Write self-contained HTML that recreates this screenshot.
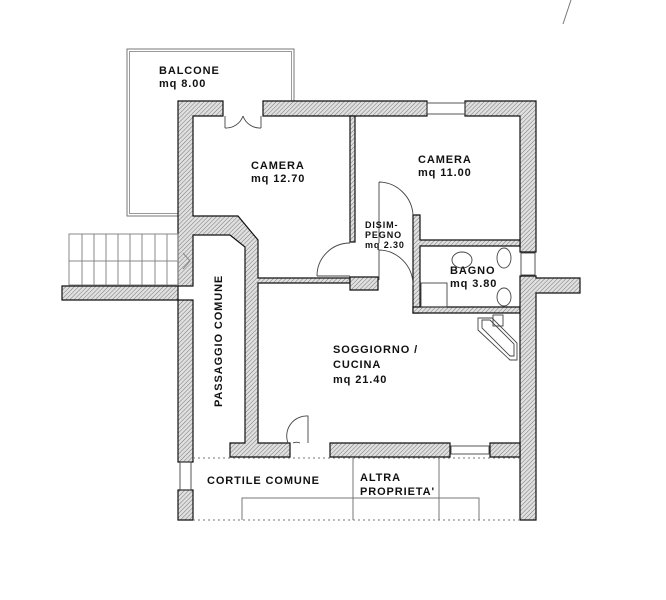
<!DOCTYPE html>
<html><head><meta charset="utf-8"><style>
html,body{margin:0;padding:0;background:#fff}
svg{display:block}
text{font-family:"Liberation Sans",sans-serif;font-weight:bold;font-size:11px;fill:#111;letter-spacing:0.9px}
</style></head><body>
<svg width="666" height="600" viewBox="0 0 666 600" xmlns="http://www.w3.org/2000/svg">
<defs>
<pattern id="h" width="3" height="3" patternUnits="userSpaceOnUse" patternTransform="rotate(45)">
<rect width="3" height="3" fill="#e0e0e0"/><line x1="0" y1="0" x2="0" y2="3" stroke="#777" stroke-width="1"/>
</pattern>
</defs>
<rect x="127" y="49" width="167" height="167" fill="none" stroke="#777" stroke-width="1"/>
<rect x="129.5" y="51.5" width="162" height="162" fill="none" stroke="#999" stroke-width="1"/>
<rect x="179" y="102" width="118" height="120" fill="#fff"/>
<g stroke="#111" stroke-width="1.2" fill="url(#h)">
<polygon points="178,101 223,101 223,116 193,116 193,216 238,216 258,240 258,278 350,278 350,283 258,283 258,443 290,443 290,457 230,457 230,443 245,443 245,247 230,235 193,235 193,286 62,286 62,300 178,300 178,235"/>
<polygon points="263,101 427,101 427,116 263,116"/>
<polygon points="465,101 536,101 536,252 520,252 520,116 465,116"/>
<polygon points="350,116 355,116 355,242 350,242"/>
<polygon points="350,277 378,277 378,290 350,290"/>
<polygon points="413,215 420,215 420,240 520,240 520,246 420,246 420,313 413,313 413,290 413,246"/>
<polygon points="413,307 520,307 520,313 413,313"/>
<polygon points="520,276 536,276 536,278 580,278 580,293 536,293 536,520 520,520"/>
<polygon points="330,443 450,443 450,457 330,457"/>
<polygon points="490,443 520,443 520,457 490,457"/>
<polygon points="178,300 193,300 193,462 178,462"/>
<polygon points="178,490 193,490 193,520 178,520"/>
</g>
<g stroke="#888" stroke-width="1" fill="none">
<rect x="69" y="234" width="109" height="51"/>
<line x1="69" y1="261" x2="178" y2="261"/>
<line x1="82" y1="234" x2="82" y2="285"/><line x1="94" y1="234" x2="94" y2="285"/><line x1="106" y1="234" x2="106" y2="285"/><line x1="118" y1="234" x2="118" y2="285"/><line x1="130" y1="234" x2="130" y2="285"/><line x1="142" y1="234" x2="142" y2="285"/><line x1="155" y1="234" x2="155" y2="285"/><line x1="167" y1="234" x2="167" y2="285"/>
<polyline points="183,253 190,261 183,269"/>
</g>
<g stroke="#444" stroke-width="0.9" fill="none">
<path d="M225,128 A18,18 0 0 0 243,116 M261,128 A18,18 0 0 1 243,116"/>
<line x1="225" y1="116" x2="225" y2="128"/><line x1="261" y1="116" x2="261" y2="128"/>
<rect x="427" y="103" width="38" height="11"/>
<path d="M379,182 A35,35 0 0 1 413,215 M379,182 L379,243"/>
<path d="M317,276 A33,33 0 0 1 350,243 M317,276 L350,276"/>
<path d="M379,250 A35,35 0 0 1 413,285 M379,250 L379,280"/>
<rect x="521" y="253" width="14" height="22"/>
<path d="M308,443 L308,416 A20,20 0 0 0 288,443 M293,443 A8,8 0 0 1 300,443"/>
<rect x="451" y="446" width="38" height="8"/>
<rect x="180" y="462" width="11" height="28"/>
<ellipse cx="462" cy="260" rx="10" ry="8"/>
<ellipse cx="504" cy="258" rx="7" ry="10"/>
<ellipse cx="504" cy="297" rx="7" ry="9"/>
<rect x="421" y="283" width="26" height="24"/>
<rect x="493" y="315" width="10" height="11"/>
<polygon points="478,318 492,318 517,343 517,360 510,360 478,330"/>
<polygon points="482,320 490,320 514,344 514,356 510,356 482,328"/>
</g>
<g stroke="#777" stroke-width="1" fill="none">
<line x1="193" y1="458" x2="520" y2="458" stroke-dasharray="2,3"/>
<line x1="193" y1="520" x2="520" y2="520" stroke-dasharray="2,3"/>
<line x1="353" y1="457" x2="353" y2="520"/>
<line x1="439" y1="457" x2="439" y2="520"/>
<polyline points="242,520 242,498 479,498 479,520"/>
<line x1="571" y1="0" x2="563" y2="24"/>
</g>
<text x="159" y="74">BALCONE</text>
<text x="159" y="87">mq 8.00</text>
<text x="251" y="169">CAMERA</text>
<text x="251" y="182">mq 12.70</text>
<text x="418" y="163">CAMERA</text>
<text x="418" y="176">mq 11.00</text>
<text x="365" y="228" style="font-size:9px">DISIM-</text>
<text x="365" y="238" style="font-size:9px">PEGNO</text>
<text x="365" y="248" style="font-size:9px">mq 2.30</text>
<text x="450" y="274">BAGNO</text>
<text x="450" y="287">mq 3.80</text>
<text x="333" y="353">SOGGIORNO /</text>
<text x="333" y="368">CUCINA</text>
<text x="333" y="383">mq 21.40</text>
<text x="222" y="407" transform="rotate(-90 222 407)">PASSAGGIO COMUNE</text>
<text x="207" y="484">CORTILE COMUNE</text>
<text x="360" y="481">ALTRA</text>
<text x="360" y="495">PROPRIETA'</text>
</svg>
</body></html>
